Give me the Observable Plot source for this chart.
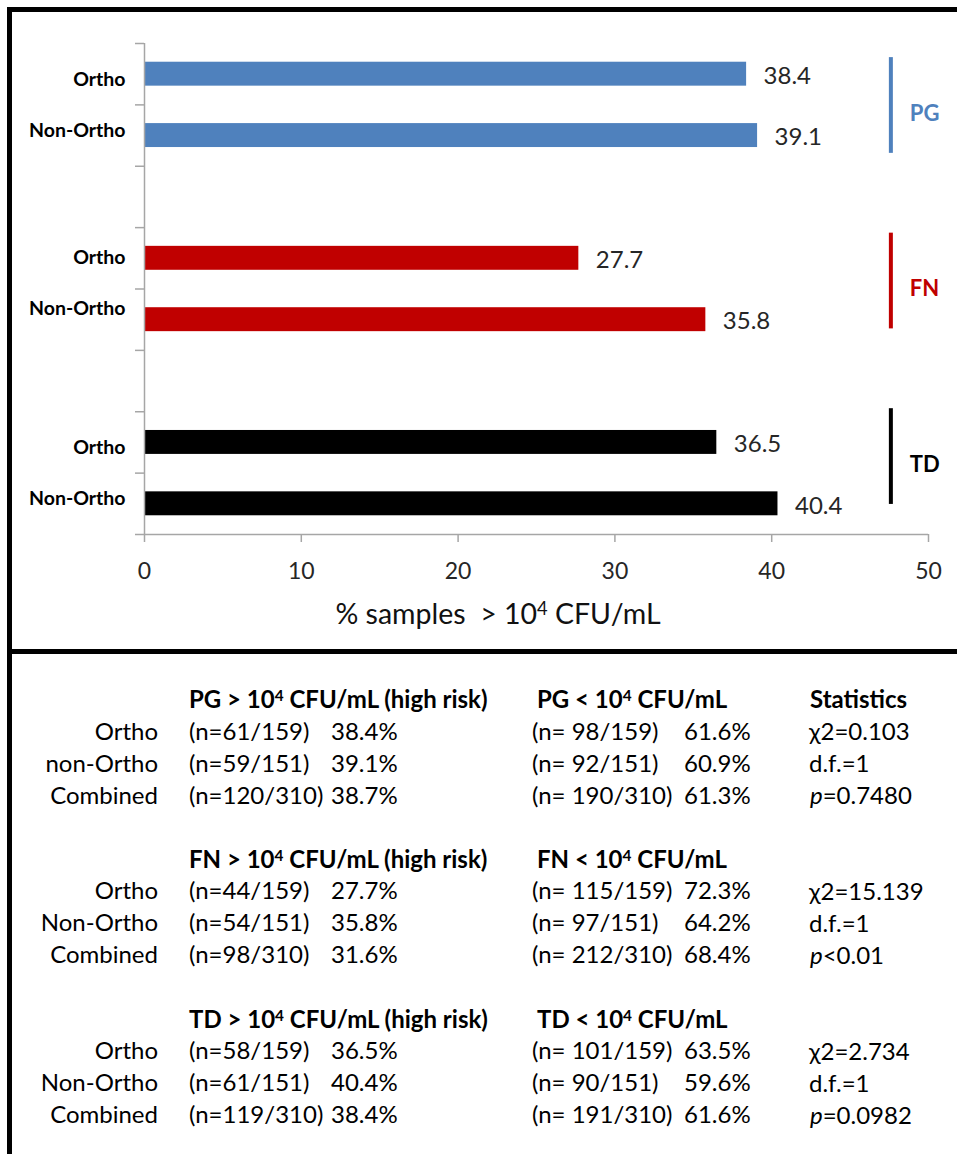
<!DOCTYPE html>
<html><head><meta charset="utf-8">
<script src="https://cdn.jsdelivr.net/npm/d3@7"></script>
<script src="https://cdn.jsdelivr.net/npm/@observablehq/plot@0.6"></script>
<style>
body{margin:0;background:#fff;font-family:Lato,sans-serif;}
#page{position:relative;width:957px;height:1154px;overflow:hidden;background:#fff}
#page svg{position:absolute;left:0;top:0}
.line{position:absolute;background:#000}
.t{position:absolute;white-space:pre;font-size:24px;line-height:28px;color:#000}
.b{font-weight:bold}
.title{font-size:28.5px;line-height:32px;color:#111}
sup{font-size:0.64em;vertical-align:0;position:relative;top:-0.5em;line-height:0}
</style></head><body><div id="page"></div>
<script>
// ---------- chart data ----------
const groups = ["PG", "FN", "TD"];
const groupColors = ["#4f81bd", "#c00000", "#000000"];
const subgroups = ["Ortho", "Non-Ortho"];
const pgValues = [38.4, 39.1];
const fnValues = [27.7, 35.8];
const tdValues = [36.5, 40.4];
const xTicks = [0, 10, 20, 30, 40, 50];

// ---------- table data ----------
const rowLabels = [["Ortho", "non-Ortho", "Combined"], ["Ortho", "Non-Ortho", "Combined"], ["Ortho", "Non-Ortho", "Combined"]];
const totals = [159, 151, 310];
const highN = [[61, 59, 120], [44, 54, 98], [58, 61, 119]];
const highPct = [[38.4, 39.1, 38.7], [27.7, 35.8, 31.6], [36.5, 40.4, 38.4]];
const lowN = [[98, 92, 190], [115, 97, 212], [101, 90, 191]];
const lowPct = [[61.6, 60.9, 61.3], [72.3, 64.2, 68.4], [63.5, 59.6, 61.6]];
const chi2 = ["0.103", "15.139", "2.734"];
const dfs = ["1", "1", "1"];
const pVals = ["=0.7480", "<0.01", "=0.0982"];

const page = document.getElementById("page");

// chart table
const rows = [];
[pgValues, fnValues, tdValues].forEach((vals, g) =>
  vals.forEach((v, s) => rows.push({group: groups[g], g, s, sub: subgroups[s], value: v, slot: g * 3 + s})));
const nSlots = 8;
const barHalf = 0.195;
const bracketX = 47.6;
const bracketCenter = i => 1.01 + 2.86 * i;
const bracketHalf = 0.78;
// category label layout (labels sit closer together than the bars, as in the original)
const labelSpread = 0.415;
const labelShift = [0.01, -0.1, 0.0];
const labelPos = rows.map(d => d.g * 3 + 1 + labelShift[d.g] + (d.s === 0 ? -labelSpread : labelSpread));
const labelOf = new Map(rows.map((d, i) => [labelPos[i], d.sub]));

const chart = Plot.plot({
  width: 957, height: 590,
  marginTop: 43, marginBottom: 56, marginLeft: 144, marginRight: 29,
  style: {fontFamily: "Lato, sans-serif", background: "transparent", overflow: "visible"},
  x: {domain: [0, 50]},
  y: {domain: [0, nSlots], reverse: true},
  color: {type: "identity"},
  marks: [
    Plot.rectX(rows, {x1: 0, x2: "value", y1: d => d.slot + 0.5 - barHalf, y2: d => d.slot + 0.5 + barHalf, fill: d => groupColors[d.g]}),
    Plot.ruleX([0], {y1: 0, y2: nSlots, stroke: "#a6a6a6", strokeWidth: 1.5}),
    Plot.ruleY([nSlots], {x1: 0, x2: 50, stroke: "#a6a6a6", strokeWidth: 1.5}),
    Plot.axisY({ticks: d3.range(0, nSlots + 1), tickSize: 9, tickFormat: () => "", stroke: "#a6a6a6", strokeWidth: 1.5, label: null}),
    Plot.axisY({ticks: labelPos, tickSize: 0, tickPadding: 19,
      tickFormat: v => labelOf.get(v), fontWeight: "bold", fontSize: 19.5, fill: "#000", label: null}),
    Plot.axisX({ticks: xTicks, tickSize: 8, tickPadding: 20, stroke: "#a6a6a6", strokeWidth: 1.5, fontSize: 23, fill: "#262626", label: null}),
    Plot.text(rows, {x: "value", y: d => d.slot + 0.5, text: d => d.value.toFixed(1), dx: 17, dy: 2, textAnchor: "start", fontSize: 24, fill: "#262626"}),
    Plot.ruleX(groups, {x: bracketX, y1: (d, i) => bracketCenter(i) - bracketHalf, y2: (d, i) => bracketCenter(i) + bracketHalf,
      stroke: (d, i) => groupColors[i], strokeWidth: 4}),
    Plot.text(groups, {x: bracketX, y: (d, i) => bracketCenter(i), text: d => d, dx: 19, dy: 8, textAnchor: "start",
      fontWeight: "bold", fontSize: 22, fill: (d, i) => groupColors[i]})
  ]
});
page.appendChild(chart);

// frame lines
function line(l, t, w, h) {
  const d = document.createElement("div");
  d.className = "line";
  Object.assign(d.style, {left: l + "px", top: t + "px", width: w + "px", height: h + "px"});
  page.appendChild(d);
}
line(7, 7, 950, 5);
line(7, 7, 5, 1147);
line(7, 649, 950, 5);

// text helper
function txt(html, x, yc, cls = "", right = false) {
  const d = document.createElement("div");
  d.className = "t " + cls;
  d.innerHTML = html;
  d.style.top = (yc - 14.8) + "px";
  if (right) { d.style.right = (957 - x) + "px"; d.style.textAlign = "right"; }
  else d.style.left = x + "px";
  page.appendChild(d);
  return d;
}

// axis title
const at = txt("% samples  &gt; 10<sup>4</sup> CFU/mL", 0, 612, "title");
at.style.left = "498px"; at.style.transform = "translateX(-50%)";

// table
const blockTop = [700, 860, 1020];
const rowGap = 32;
groups.forEach((g, b) => {
  const y0 = blockTop[b];
  txt(`${g} &gt; 10<sup>4</sup> CFU/mL (high risk)`, 189, y0, "b");
  txt(`${g} &lt; 10<sup>4</sup> CFU/mL`, 537, y0, "b");
  if (b === 0) txt("Statistics", 810, y0, "b");
  for (let r = 0; r < 3; r++) {
    const y = y0 + rowGap * (r + 1) - (b === 0 ? 0 : 1);
    txt(rowLabels[b][r], 158, y, "", true);
    txt(`(n=${highN[b][r]}/${totals[r]})`, 189, y);
    txt(`${highPct[b][r].toFixed(1)}%`, 331, y);
    txt(`(n= ${lowN[b][r]}/${totals[r]})`, 532, y);
    txt(`${lowPct[b][r].toFixed(1)}%`, 684, y);
  }
  txt(`χ2=${chi2[b]}`, 809, y0 + rowGap);
  txt(`d.f.=${dfs[b]}`, 809, y0 + rowGap * 2);
  txt(`<i>p</i>${pVals[b].replace("<", "&lt;")}`, 810, y0 + rowGap * 3);
});
</script></body></html>
